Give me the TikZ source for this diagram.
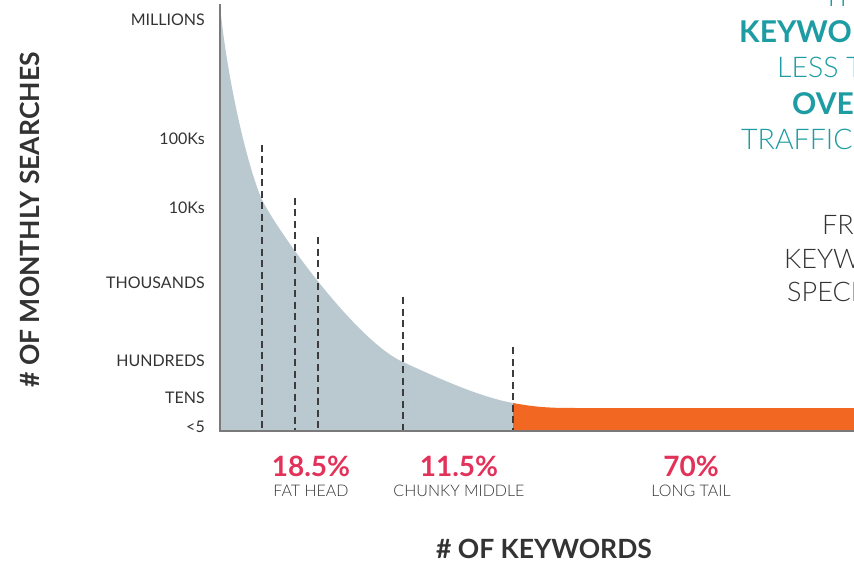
\documentclass[tikz,border=0pt]{standalone}
\usepackage{fontspec}
\setmainfont{Lato}
\newfontfamily\lightfont{Lato Light}
\usetikzlibrary{positioning}

\definecolor{headgray}{HTML}{BAC9D0}
\definecolor{tailorange}{HTML}{F26722}
\definecolor{axisgray}{HTML}{7A7A7A}
\definecolor{dashgray}{HTML}{3C3C3C}
\definecolor{pctred}{HTML}{E3325A}
\definecolor{noteteal}{HTML}{1E9CA3}
\definecolor{labgray}{HTML}{333333}

\begin{document}
\begin{tikzpicture}[x=1pt, y=-1pt,
    ticklab/.style={anchor=east, inner sep=0pt, text=labgray, font=\fontsize{16}{16}\selectfont},
    axtitle/.style={inner sep=0pt, text=labgray, font=\bfseries\fontsize{26.5}{26.5}\selectfont},
    pct/.style={inner sep=0pt, text=pctred, font=\bfseries\fontsize{28}{28}\selectfont},
    part/.style={inner sep=0pt, text=labgray, font=\lightfont\fontsize{16}{16}\selectfont},
    cutline/.style={dashgray, line width=1.5pt, dash pattern=on 7pt off 4.5pt},
    noteb/.style={anchor=base west, inner sep=0pt, text=noteteal, font=\bfseries\fontsize{30}{30}\selectfont},
    notel/.style={anchor=base west, inner sep=0pt, text=noteteal, font=\lightfont\fontsize{28.5}{28.5}\selectfont},
    noteg/.style={anchor=base west, inner sep=0pt, text=labgray, font=\lightfont\fontsize{27}{27}\selectfont}]
    \useasboundingbox (0,0) rectangle (854,564);
    \clip (0,0) rectangle (854,564);

    % Fläche unter der Kurve
    \fill[headgray] (220,431) -- (220,5) .. controls (226,70) and (245,160) .. (262,200)
        .. controls (282,238) and (358,342) .. (403,362)
        .. controls (440,379) and (480,397) .. (513,403) -- (513,431) -- cycle;
    \fill[tailorange] (513,431) -- (513,403) .. controls (540,408) and (555,408) .. (580,408)
        -- (854,408) -- (854,431) -- cycle;

    % Achsen
    \coordinate (O) at (220,431);
    \draw[axisgray, line width=1.6pt] (220,4) -- (O) -- (854,431);

    % Trennlinien
    \foreach \x/\top in {262/145, 295/198, 318/237, 403/297, 513/347}
        \draw[cutline] (\x,\top) -- (\x,430);

    % y-Beschriftung
    \node[ticklab] (mil) at (205,20) {MILLIONS};
    \node[ticklab] (hk) at (205,139) {100Ks};
    \node[ticklab] (tk) at (205,208) {10Ks};
    \node[ticklab] (th) at (205,283) {THOUSANDS};
    \node[ticklab] (hu) at (205,361) {HUNDREDS};
    \node[ticklab] (te) at (205,398) {TENS};
    \node[ticklab] (lt) at (205,427) {<5};
    \node[axtitle, rotate=90] (ytitle) at (30,220) {\# OF MONTHLY SEARCHES};
    \node[axtitle] (xtitle) at (544,549) {\# OF KEYWORDS};

    % Anteile
    \node[pct] (fatp) at (311,466) {18.5\%};
    \node[part, below=8pt of fatp] (fat) {FAT HEAD};
    \node[pct] (midp) at (459,466) {11.5\%};
    \node[part, below=8pt of midp] (mid) {CHUNKY MIDDLE};
    \node[pct] (tailp) at (691,466) {70\%};
    \node[part, below=8pt of tailp] (tail) {LONG TAIL};

    % Text rechts (abgeschnitten)
    \node[notel] (n0) at (823,7) {THE};
    \node[noteb] (n1) at (739,43) {KEYWORDS};
    \node[notel] (n2) at (777,78) {LESS THAN};
    \node[noteb] (n3) at (792,115) {OVER};
    \node[notel] (n4) at (741,150) {TRAFFIC};
    \node[noteg] (n5) at (822,235) {FROM};
    \node[noteg] (n6) at (784,268) {KEYWORDS};
    \node[noteg] (n7) at (787,301) {SPECIFIC};
\end{tikzpicture}
\end{document}
